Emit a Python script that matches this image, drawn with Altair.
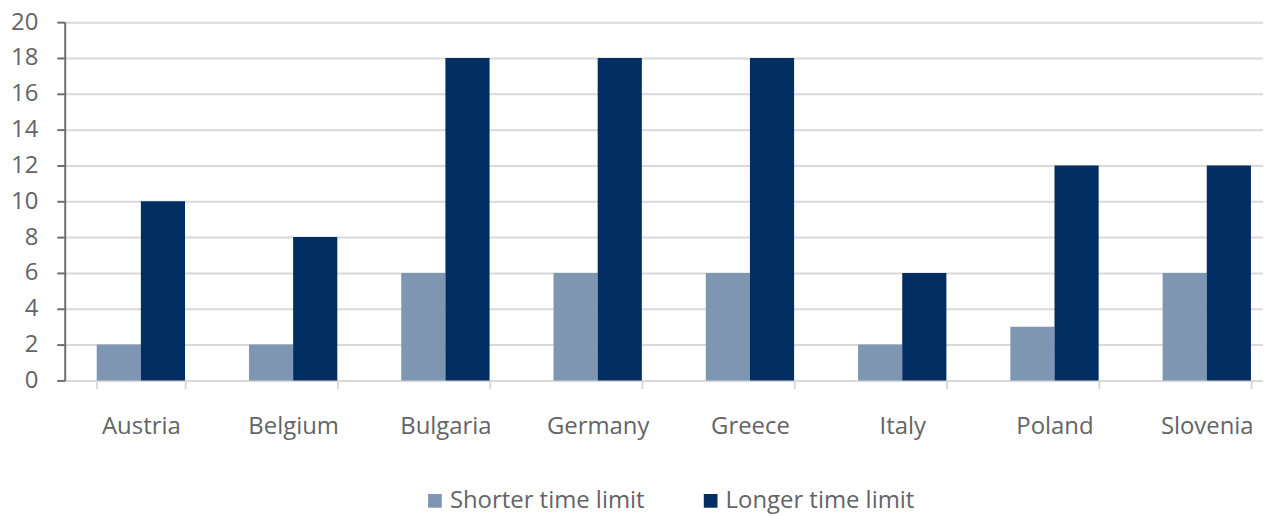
import altair as alt
import pandas as pd

countries = ["Austria", "Belgium", "Bulgaria", "Germany", "Greece", "Italy", "Poland", "Slovenia"]
shorter = [2, 2, 6, 6, 6, 2, 3, 6]
longer = [10, 8, 18, 18, 18, 6, 12, 12]
series = ["Shorter time limit", "Longer time limit"]
colors = ["#7f96b2", "#002d62"]
y_ticks = list(range(0, 21, 2))

rows = []
for c, s, l in zip(countries, shorter, longer):
    rows.append({"country": c, "series": series[0], "value": s})
    rows.append({"country": c, "series": series[1], "value": l})
df = pd.DataFrame(rows)

FONT = "Open Sans"
TXT = "#636466"

chart = alt.Chart(df).mark_bar().encode(
    x=alt.X("country:N", sort=countries, title=None,
            scale=alt.Scale(paddingInner=0.42, paddingOuter=0.21, range=[0, 1224]),
            axis=alt.Axis(labelAngle=0, labelFontSize=24, labelColor=TXT, labelFont=FONT,
                          labelPadding=26, tickBand="extent", tickSize=8, tickColor="#d9d9d9",
                          tickWidth=2, domainColor="#d9d9d9", domainWidth=2, grid=False)),
    xOffset=alt.XOffset("series:N", sort=series),
    y=alt.Y("value:Q", title=None,
            scale=alt.Scale(domain=[0, 20]),
            axis=alt.Axis(values=y_ticks, labelFontSize=24, labelColor=TXT, labelFont=FONT,
                          labelPadding=19, tickSize=8, tickColor="#6d6e71", tickWidth=2,
                          domainColor="#6d6e71", domainWidth=2, gridColor="#d9d9d9",
                          gridWidth=2)),
    color=alt.Color("series:N", sort=series,
                    scale=alt.Scale(domain=series, range=colors),
                    legend=alt.Legend(title=None, orient="none", direction="horizontal",
                                      legendX=360, legendY=469, symbolType="square",
                                      symbolSize=190, symbolStrokeWidth=0, labelFontSize=24,
                                      labelFont=FONT, labelColor=TXT, columnPadding=54,
                                      labelOffset=3, labelLimit=0, symbolOpacity=1)),
).properties(
    width=1204, height=360,
    autosize=alt.AutoSizeParams(type="none"),
    padding={"left": 57, "top": 13, "right": 0, "bottom": 135},
).configure_view(stroke=None)

chart.save("out.html", embed_options={"renderer": "svg", "actions": False})
